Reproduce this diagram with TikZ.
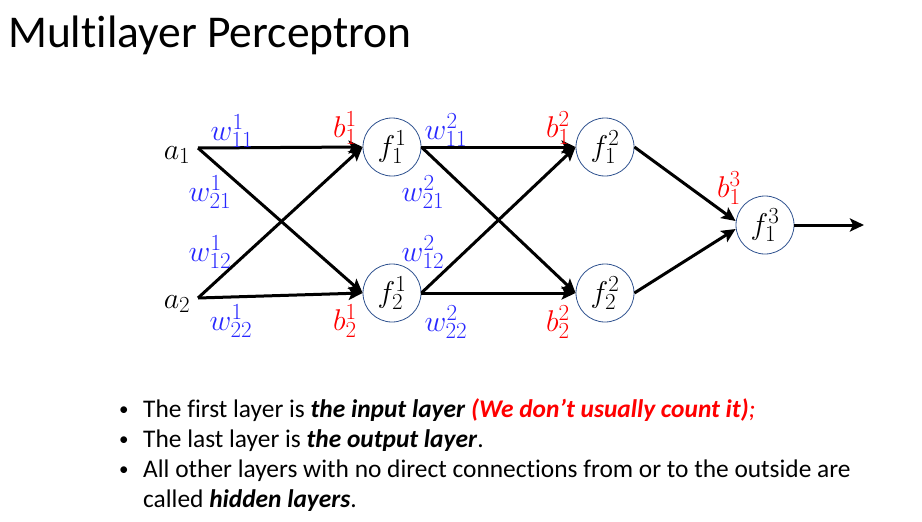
\RequirePackage{fix-cm}
\documentclass[tikz,border=0pt]{standalone}
\usepackage{fontspec}
\setmainfont{Carlito}[Ligatures=NoCommon]
\usetikzlibrary{arrows.meta}
\DeclareMathSizes{30}{30}{23}{17}
\definecolor{wblue}{RGB}{40,40,255}
\definecolor{bred}{RGB}{255,0,0}
\definecolor{cborder}{RGB}{47,82,143}
\begin{document}
\begin{tikzpicture}[x=1pt,y=-1pt,
  neuron/.style={circle,draw=cborder,line width=0.8pt,minimum size=58pt,inner sep=0pt,font=\fontsize{30}{36}\selectfont},
  conn/.style={line width=3pt,-{Stealth[length=14pt,width=13pt,inset=3pt]}},
  wlab/.style={text=wblue,font=\fontsize{30}{36}\selectfont,inner sep=0pt},
  blab/.style={text=bred,font=\fontsize{30}{36}\selectfont,inner sep=0pt},
  inlab/.style={font=\fontsize{30}{36}\selectfont,inner sep=0pt},
  bul/.style={anchor=base west,font=\fontsize{25.4}{30}\selectfont,inner sep=0pt},
  dot/.style={anchor=base west,font=\fontsize{19}{30}\selectfont,inner sep=0pt}
]
\useasboundingbox (0,0) rectangle (922,522);
\node[anchor=base west,inner sep=0pt,font=\fontsize{45.5}{54}\selectfont] (title) at (8,47) {Multilayer Perceptron};

% inputs
\coordinate (a1) at (198,148);
\coordinate (a2) at (198,298);
\node[inlab] (la1) at (177,155) {$a_1$};
\node[inlab] (la2) at (177,304) {$a_2$};

% neurons
\node[neuron] (f11) at (392,147) {$f_1^1$};
\node[neuron] (f21) at (392,293) {$f_2^1$};
\node[neuron] (f12) at (605,147) {$f_1^2$};
\node[neuron] (f22) at (605,293) {$f_2^2$};
\node[neuron] (f13) at (765,225) {$f_1^3$};
\coordinate (out) at (864,225);

% connections
\draw[conn] (a1) -- (f11.west);
\draw[conn] (a1) -- (f21.west);
\draw[conn] (a2) -- (f11.west);
\draw[conn] (a2) -- (f21.west);
\draw[conn] (f11.east) -- (f12.west);
\draw[conn] (f11.east) -- (f22.west);
\draw[conn] (f21.east) -- (f12.west);
\draw[conn] (f21.east) -- (f22.west);
\draw[conn] (f12.east) -- ([yshift=4pt]f13.west);
\draw[conn] (f22.east) -- ([yshift=-4pt]f13.west);
\draw[conn] (f13.east) -- (out);

% weight labels
\node[wlab] (w111) at (232,131) {$w_{11}^1$};
\node[wlab] (w211) at (210,192) {$w_{21}^1$};
\node[wlab] (w121) at (210,252) {$w_{12}^1$};
\node[wlab] (w221) at (231,321) {$w_{22}^1$};
\node[wlab] (w112) at (446,130) {$w_{11}^2$};
\node[wlab] (w212) at (423,192) {$w_{21}^2$};
\node[wlab] (w122) at (423,252) {$w_{12}^2$};
\node[wlab] (w222) at (446,322) {$w_{22}^2$};

% bias labels
\node[blab] (b11) at (345,128) {$b_1^1$};
\node[blab] (b21) at (345,321) {$b_2^1$};
\node[blab] (b12) at (558,128) {$b_1^2$};
\node[blab] (b22) at (558,322) {$b_2^2$};
\node[blab] (b13) at (729,188) {$b_1^3$};

% bullet text
\node[dot] (d1) at (119,415) {\textbullet};
\node[dot] (d2) at (119,445) {\textbullet};
\node[dot] (d3) at (119,475) {\textbullet};
\node[bul] (l1) at (143,417) {The first layer is \textbf{\textit{the input layer}} \textcolor{bred}{\textbf{\textit{(We don’t usually count it)}}\textit{;}}};
\node[bul] (l2) at (143,447) {The last layer is \textbf{\textit{the output layer}}.};
\node[bul] (l3) at (143,477) {All other layers with no direct connections from or to the outside are};
\node[bul] (l4) at (143,507) {called \textbf{\textit{hidden layers}}.};
\end{tikzpicture}
\end{document}
